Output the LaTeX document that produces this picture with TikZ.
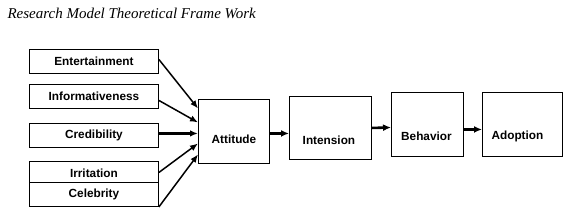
\documentclass[tikz,border=0pt]{standalone}
\usepackage{fontspec}
\setmainfont{Liberation Serif}
\newfontfamily\boxfont{Liberation Sans}
\usetikzlibrary{arrows.meta}
\begin{document}
\begin{tikzpicture}[x=1pt,y=-1pt,
  box/.style={draw,line width=0.9pt,minimum width=#1,inner sep=0pt,anchor=north west},
  lbl/.style={font=\boxfont\bfseries\fontsize{11.8}{13}\selectfont},
  arr/.style={line width=1.5pt,-{Latex[length=8pt,width=6.5pt]}},
  arrb/.style={line width=2.6pt,-{Latex[length=8pt,width=7pt]}}]
\useasboundingbox (0,0) rectangle (572,218);
\node[anchor=west,font=\itshape\fontsize{15}{17}\selectfont] (title) at (4,13) {Research Model Theoretical Frame Work};
% left boxes
\node[box=129pt,minimum height=24pt] (ent) at (29,49) {};
\node[lbl] at (ent.center) {Entertainment};
\node[box=129pt,minimum height=24pt] (inf) at (29,84) {};
\node[lbl] at (inf.center) {Informativeness};
\node[box=129pt,minimum height=24pt] (cre) at (29,123) {};
\node[lbl] at (cre.center) {Credibility};
\node[box=129pt,minimum height=21pt] (irr) at (29,161) {};
\node[lbl] at ([yshift=-1.5pt]irr.center) {Irritation};
\node[box=129pt,minimum height=24pt] (cel) at (29,182) {};
\node[lbl] at (cel.center) {Celebrity};
% right chain
\node[box=71pt,minimum height=64pt] (att) at (198,99) {};
\node[lbl] at ([yshift=-8pt]att.center) {Attitude};
\node[box=82pt,minimum height=63pt] (int) at (289,96) {};
\node[lbl] at ([xshift=-1.5pt,yshift=-12pt]int.center) {Intension};
\node[box=72pt,minimum height=64pt] (beh) at (391,92) {};
\node[lbl] at ([xshift=-1pt,yshift=-12pt]beh.center) {Behavior};
\node[box=80pt,minimum height=64pt] (ado) at (482,92) {};
\node[lbl] at ([xshift=-5pt,yshift=-12pt]ado.center) {Adoption};
% arrows into attitude
\draw[arr] ([yshift=2pt]ent.east) -- ([yshift=23pt]att.west);
\draw[arr] ([yshift=-4pt]inf.east) -- ([yshift=9pt]att.west);
\draw[arr,line width=2.2pt] ([yshift=2pt]cre.east) -- ([yshift=-2pt]att.west);
\draw[arr] ([yshift=-0.5pt]irr.east) -- ([yshift=-12pt]att.west);
\draw[arr] (cel.south east) -- ([yshift=-23pt]att.west);
% chain arrows
\draw[arrb] ([yshift=-2pt]att.east) -- ([yshift=-5.5pt]int.west);
\draw[arrb] ([yshift=0pt]int.east) -- ([yshift=-3pt]beh.west);
\draw[arrb] ([yshift=-5pt]beh.east) -- ([yshift=-5pt]ado.west);
\end{tikzpicture}
\end{document}
